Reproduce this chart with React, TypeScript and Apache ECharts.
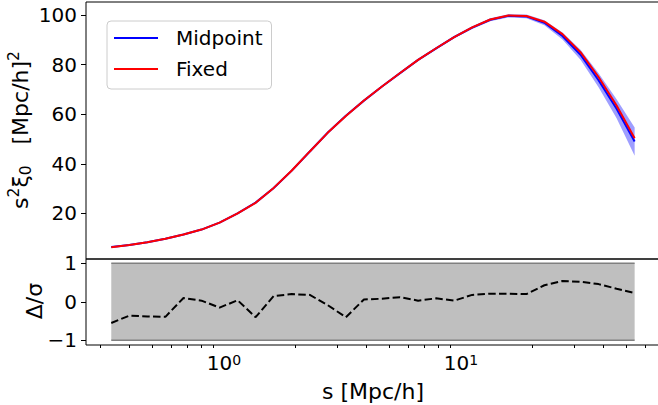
import React, { useEffect, useRef } from "react";
import * as echarts from "echarts";

// separation s [Mpc/h] (log-spaced bins)
const sValues = [
  0.3345, 0.3988, 0.4751, 0.5661, 0.6747, 0.8039, 0.9579, 1.1415, 1.36, 1.621,
  1.932, 2.302, 2.744, 3.268, 3.895, 4.641, 5.532, 6.591, 7.855, 9.359,
  11.15, 13.29, 15.83, 18.87, 22.48, 26.8, 31.93, 38.05, 45.34, 54.03,
];

// s^2 xi_0, "Midpoint"
const midpoint = [
  6.43, 7.32, 8.42, 9.83, 11.49, 13.5, 16.32, 20.0, 24.36, 30.28,
  37.26, 44.96, 52.62, 59.4, 65.48, 71.18, 76.56, 81.89, 86.56, 91.09,
  94.9, 98.07, 99.65, 99.44, 96.87, 91.54, 83.96, 73.71, 62.21, 48.99,
];

// uncertainty of Midpoint (band half-width)
const sigma = [
  0.05, 0.05, 0.06, 0.07, 0.08, 0.09, 0.1, 0.12, 0.14, 0.16,
  0.18, 0.2, 0.22, 0.25, 0.28, 0.31, 0.35, 0.4, 0.45, 0.5,
  0.55, 0.62, 0.7, 0.8, 1.0, 1.4, 2.0, 2.8, 3.8, 5.7,
];

// s^2 xi_0, "Fixed"
const fixed = [
  6.4, 7.3, 8.4, 9.8, 11.5, 13.5, 16.3, 20.0, 24.3, 30.3,
  37.3, 45.0, 52.6, 59.3, 65.5, 71.2, 76.6, 81.9, 86.6, 91.1,
  95.0, 98.2, 99.8, 99.6, 97.3, 92.3, 85.0, 75.0, 63.5, 50.3,
];

// Delta / sigma
const deltaOverSigma = [
  -0.55, -0.36, -0.38, -0.39, 0.1, 0.03, -0.15, 0.04, -0.4, 0.15,
  0.2, 0.18, -0.09, -0.4, 0.06, 0.08, 0.12, 0.03, 0.09, 0.03,
  0.18, 0.21, 0.21, 0.2, 0.43, 0.54, 0.52, 0.46, 0.34, 0.23,
];

const topYTicks = [20, 40, 60, 80, 100];
const bottomYTicks = [-1, 0, 1];
const xMajorTicks = [1, 10];
const xMinorTicks = [
  0.3, 0.4, 0.5, 0.6, 0.7, 0.8, 0.9, 2, 3, 4, 5, 6, 7, 8, 9, 20, 30, 40, 50, 60,
];

const FONT = "DejaVu Sans";
const X_MIN = 0.2617;
const X_MAX = 69.8;

function buildOption(): any {
  const midLine = sValues.map((s, i) => [s, midpoint[i]]);
  const fixLine = sValues.map((s, i) => [s, fixed[i]]);
  const ratioLine = sValues.map((s, i) => [s, deltaOverSigma[i]]);
  const bandData = sValues.map((s, i) => [s, midpoint[i] - sigma[i], midpoint[i] + sigma[i]]);
  const grayData = sValues.map((s) => [s, -1, 1]);
  const upper1 = sValues.map((s) => [s, 1]);
  const lower1 = sValues.map((s) => [s, -1]);

  const polyRender = (rows: number[][], fill: string) => (params: any, api: any) => {
    if (params.dataIndex !== 0) return null;
    const pts: number[][] = [];
    for (let i = 0; i < rows.length; i++) pts.push(api.coord([rows[i][0], rows[i][2]]));
    for (let i = rows.length - 1; i >= 0; i--) pts.push(api.coord([rows[i][0], rows[i][1]]));
    return { type: "polygon", shape: { points: pts }, style: { fill, stroke: "none" } };
  };

  const tickStyle = { color: "#000", width: 1 };
  const labelRich = {
    n: { fontFamily: FONT, fontSize: 22, lineHeight: 28, color: "#000" },
    sup: { fontFamily: FONT, fontSize: 15.5, lineHeight: 18, color: "#000", verticalAlign: "top" },
    sub: { fontFamily: FONT, fontSize: 15.5, lineHeight: 18, color: "#000", verticalAlign: "bottom" },
  };

  return {
    animation: false,
    backgroundColor: "#fff",
    textStyle: { fontFamily: FONT },
    grid: [
      { left: 86, top: 2, width: 575, height: 257, show: true, borderColor: "#000", borderWidth: 1, backgroundColor: "transparent" },
      { left: 86, top: 259, width: 575, height: 86, show: true, borderColor: "#000", borderWidth: 1, backgroundColor: "transparent" },
    ],
    legend: {
      left: 107,
      top: 21,
      orient: "vertical",
      data: [
        { name: "Midpoint", icon: "rect" },
        { name: "Fixed", icon: "rect" },
      ],
      itemWidth: 44,
      itemHeight: 2,
      itemGap: 9,
      padding: [6, 9, 9, 7],
      borderColor: "#cccccc",
      borderWidth: 1,
      borderRadius: 4,
      backgroundColor: "rgba(255,255,255,0.8)",
      textStyle: { fontFamily: FONT, fontSize: 20, color: "#000", lineHeight: 22, padding: [0, 0, 0, 13] },
    },
    xAxis: [
      {
        type: "log", gridIndex: 0, position: "bottom", min: X_MIN, max: X_MAX,
        axisLine: { show: false }, axisTick: { show: false }, axisLabel: { show: false }, splitLine: { show: false },
      },
      {
        type: "log", gridIndex: 1, position: "bottom", min: X_MIN, max: X_MAX,
        axisLine: { show: false },
        axisTick: { show: true, length: 5, customValues: xMajorTicks, lineStyle: tickStyle },
        axisLabel: {
          show: true,
          customValues: xMajorTicks,
          margin: 8,
          formatter: (v: number) => `{b|10}{s|${Math.round(Math.log10(v))}}`,
          rich: {
            b: { fontFamily: FONT, fontSize: 20, lineHeight: 20, color: "#000" },
            s: { fontFamily: FONT, fontSize: 14, lineHeight: 14, color: "#000", verticalAlign: "top" },
          },
        },
        splitLine: { show: false },
      },
      {
        type: "log", gridIndex: 1, position: "bottom", min: X_MIN, max: X_MAX,
        axisLine: { show: false },
        axisTick: { show: true, length: 3, customValues: xMinorTicks, lineStyle: tickStyle },
        axisLabel: { show: false },
        splitLine: { show: false },
      },
    ],
    yAxis: [
      {
        type: "value", gridIndex: 0, min: 1.64, max: 105.24,
        axisLine: { show: false },
        axisTick: { show: true, length: 5, customValues: topYTicks, lineStyle: tickStyle },
        axisLabel: { customValues: topYTicks, fontFamily: FONT, fontSize: 20, color: "#000", margin: 9 },
        splitLine: { show: false },
      },
      {
        type: "value", gridIndex: 1, min: -1.122, max: 1.112,
        axisLine: { show: false },
        axisTick: { show: true, length: 5, customValues: bottomYTicks, lineStyle: tickStyle },
        axisLabel: {
          customValues: bottomYTicks, fontFamily: FONT, fontSize: 20, color: "#000", margin: 9,
          formatter: (v: number) => String(v).replace("-", "\u2212"),
        },
        splitLine: { show: false },
      },
    ],
    series: [
      {
        type: "custom", name: "band", xAxisIndex: 0, yAxisIndex: 0, data: bandData,
        encode: { x: 0, y: [1, 2] }, silent: true, z: 1,
        renderItem: polyRender(bandData, "rgba(0,0,255,0.38)"),
      },
      {
        type: "line", name: "Midpoint", xAxisIndex: 0, yAxisIndex: 0, data: midLine,
        showSymbol: false, symbol: "none", color: "#0000ff", lineStyle: { color: "#0000ff", width: 2 }, z: 2,
      },
      {
        type: "line", name: "Fixed", xAxisIndex: 0, yAxisIndex: 0, data: fixLine,
        showSymbol: false, symbol: "none", color: "#ff0000", lineStyle: { color: "#ff0000", width: 2 }, z: 3,
      },
      {
        type: "custom", name: "grayband", xAxisIndex: 1, yAxisIndex: 1, data: grayData,
        encode: { x: 0, y: [1, 2] }, silent: true, z: 1,
        renderItem: polyRender(grayData, "#bfbfbf"),
      },
      {
        type: "line", name: "upper", xAxisIndex: 1, yAxisIndex: 1, data: upper1,
        showSymbol: false, symbol: "none", lineStyle: { color: "#808080", width: 1.5 }, z: 2, silent: true,
      },
      {
        type: "line", name: "lower", xAxisIndex: 1, yAxisIndex: 1, data: lower1,
        showSymbol: false, symbol: "none", lineStyle: { color: "#808080", width: 1.5 }, z: 2, silent: true,
      },
      {
        type: "line", name: "ratio", xAxisIndex: 1, yAxisIndex: 1, data: ratioLine,
        showSymbol: false, symbol: "none", lineStyle: { color: "#000", width: 2, type: [7.5, 3.3] }, z: 3,
      },
    ],
    graphic: [
      {
        type: "text", x: 20, y: 130, rotation: Math.PI / 2,
        style: {
          text: "{n|s}{sup|2}{n|\u03be}{sub|0}{n|   [Mpc/h]}{sup|2}",
          rich: labelRich,
          align: "center", verticalAlign: "middle",
        },
      },
      {
        type: "text", x: 34, y: 301, rotation: Math.PI / 2,
        style: { text: "\u0394/\u03c3", fontFamily: FONT, fontSize: 22, fill: "#000", align: "center", verticalAlign: "middle" },
      },
      {
        type: "text", x: 373, y: 391,
        style: { text: "s [Mpc/h]", fontFamily: FONT, fontSize: 22, fill: "#000", align: "center", verticalAlign: "middle" },
      },
    ],
  };
}

export default function App() {
  const ref = useRef<HTMLDivElement>(null);
  useEffect(() => {
    if (!ref.current) return;
    const chart = echarts.init(ref.current, null, { renderer: "svg" });
    chart.setOption(buildOption());
    return () => chart.dispose();
  }, []);
  return (
    <div style={{ position: "fixed", left: 0, top: 0, width: 658, height: 405, overflow: "hidden", background: "#fff" }}>
      <div ref={ref} style={{ width: 662, height: 405 }} />
    </div>
  );
}
